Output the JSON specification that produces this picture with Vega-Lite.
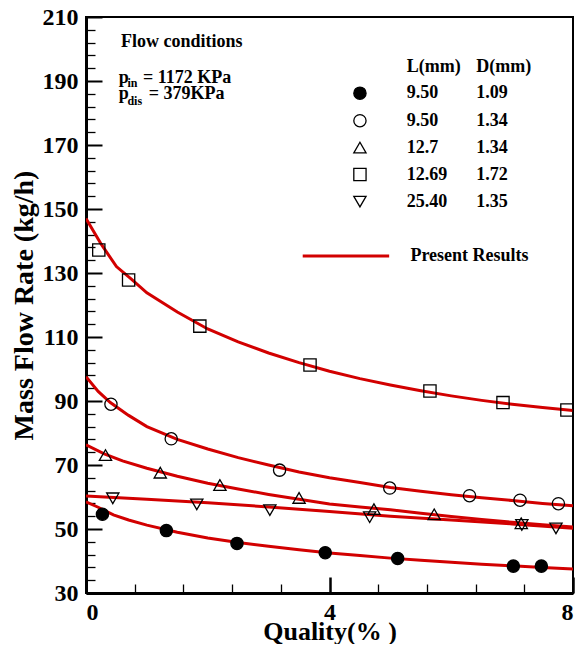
{
  "$schema": "https://vega.github.io/schema/vega-lite/v6.json",
  "width": 487,
  "height": 576,
  "padding": {"left": 10, "top": 5, "right": 0, "bottom": 0},
  "background": "white",
  "config": {
    "view": {"stroke": "black", "strokeWidth": 2},
    "font": "Liberation Serif",
    "axis": {
      "grid": false,
      "domainColor": "black",
      "domainWidth": 3,
      "tickColor": "black",
      "labelFont": "Liberation Serif",
      "labelFontWeight": "bold",
      "labelFontSize": 24,
      "labelColor": "black",
      "titleFont": "Liberation Serif",
      "titleFontWeight": "bold",
      "titleFontSize": 26,
      "titleColor": "black"
    }
  },
  "resolve": {"axis": {"x": "independent", "y": "independent"}},
  "datasets": {
    "curves": [
      {"q": 0, "m": 147, "s": "sq"}, {"q": 0.25, "m": 139, "s": "sq"}, {"q": 0.5, "m": 132, "s": "sq"}, {"q": 0.75, "m": 128, "s": "sq"}, {"q": 1, "m": 123.8, "s": "sq"}, {"q": 1.5, "m": 117.8, "s": "sq"}, {"q": 2, "m": 112.5, "s": "sq"}, {"q": 2.5, "m": 108.5, "s": "sq"}, {"q": 3, "m": 105, "s": "sq"}, {"q": 3.5, "m": 102, "s": "sq"}, {"q": 4, "m": 99.3, "s": "sq"}, {"q": 4.5, "m": 97, "s": "sq"}, {"q": 5, "m": 95, "s": "sq"}, {"q": 5.5, "m": 93.2, "s": "sq"}, {"q": 6, "m": 91.6, "s": "sq"}, {"q": 6.5, "m": 90.2, "s": "sq"}, {"q": 7, "m": 89, "s": "sq"}, {"q": 7.5, "m": 88, "s": "sq"}, {"q": 8, "m": 87, "s": "sq"},
      {"q": 0, "m": 97.6, "s": "oc"}, {"q": 0.2, "m": 93, "s": "oc"}, {"q": 0.4, "m": 89.5, "s": "oc"}, {"q": 0.7, "m": 85.5, "s": "oc"}, {"q": 1, "m": 82, "s": "oc"}, {"q": 1.5, "m": 78, "s": "oc"}, {"q": 2, "m": 75, "s": "oc"}, {"q": 2.5, "m": 72.3, "s": "oc"}, {"q": 3, "m": 70, "s": "oc"}, {"q": 3.5, "m": 67.8, "s": "oc"}, {"q": 4, "m": 66, "s": "oc"}, {"q": 4.5, "m": 64.5, "s": "oc"}, {"q": 5, "m": 63, "s": "oc"}, {"q": 5.5, "m": 61.8, "s": "oc"}, {"q": 6, "m": 60.7, "s": "oc"}, {"q": 6.5, "m": 59.8, "s": "oc"}, {"q": 7, "m": 58.9, "s": "oc"}, {"q": 7.5, "m": 58, "s": "oc"}, {"q": 8, "m": 57.3, "s": "oc"},
      {"q": 0, "m": 76.3, "s": "tu"}, {"q": 0.3, "m": 73.5, "s": "tu"}, {"q": 0.6, "m": 71.3, "s": "tu"}, {"q": 1, "m": 69, "s": "tu"}, {"q": 1.5, "m": 66.5, "s": "tu"}, {"q": 2, "m": 64.3, "s": "tu"}, {"q": 2.5, "m": 62.5, "s": "tu"}, {"q": 3, "m": 60.8, "s": "tu"}, {"q": 3.5, "m": 59.3, "s": "tu"}, {"q": 4, "m": 57.8, "s": "tu"}, {"q": 4.5, "m": 56.9, "s": "tu"}, {"q": 5, "m": 56, "s": "tu"}, {"q": 5.5, "m": 54.9, "s": "tu"}, {"q": 6, "m": 53.9, "s": "tu"}, {"q": 6.5, "m": 53, "s": "tu"}, {"q": 7, "m": 52.1, "s": "tu"}, {"q": 7.5, "m": 51.3, "s": "tu"}, {"q": 8, "m": 50.6, "s": "tu"},
      {"q": 0, "m": 60.3, "s": "td"}, {"q": 1, "m": 59.3, "s": "td"}, {"q": 2, "m": 58.2, "s": "td"}, {"q": 3, "m": 56.9, "s": "td"}, {"q": 4, "m": 55.5, "s": "td"}, {"q": 5, "m": 54, "s": "td"}, {"q": 6, "m": 52.8, "s": "td"}, {"q": 7, "m": 51.6, "s": "td"}, {"q": 8, "m": 50.2, "s": "td"},
      {"q": 0, "m": 58.5, "s": "fc"}, {"q": 0.2, "m": 56.8, "s": "fc"}, {"q": 0.45, "m": 54.4, "s": "fc"}, {"q": 0.7, "m": 52.8, "s": "fc"}, {"q": 1, "m": 51.2, "s": "fc"}, {"q": 1.5, "m": 49, "s": "fc"}, {"q": 2, "m": 47.2, "s": "fc"}, {"q": 2.5, "m": 45.8, "s": "fc"}, {"q": 3, "m": 44.6, "s": "fc"}, {"q": 3.5, "m": 43.5, "s": "fc"}, {"q": 4, "m": 42.5, "s": "fc"}, {"q": 4.5, "m": 41.7, "s": "fc"}, {"q": 5, "m": 40.9, "s": "fc"}, {"q": 5.5, "m": 40.2, "s": "fc"}, {"q": 6, "m": 39.6, "s": "fc"}, {"q": 6.5, "m": 39, "s": "fc"}, {"q": 7, "m": 38.5, "s": "fc"}, {"q": 7.5, "m": 38, "s": "fc"}, {"q": 8, "m": 37.5, "s": "fc"}
    ],
    "points": [
      {"q": 0.27, "m": 54.6, "s": "fc"}, {"q": 1.32, "m": 49.5, "s": "fc"}, {"q": 2.48, "m": 45.5, "s": "fc"}, {"q": 3.93, "m": 42.6, "s": "fc"}, {"q": 5.12, "m": 40.8, "s": "fc"}, {"q": 7.02, "m": 38.4, "s": "fc"}, {"q": 7.48, "m": 38.4, "s": "fc"},
      {"q": 0.41, "m": 89.0, "s": "oc"}, {"q": 1.4, "m": 78.2, "s": "oc"}, {"q": 3.18, "m": 68.4, "s": "oc"}, {"q": 4.99, "m": 62.8, "s": "oc"}, {"q": 6.3, "m": 60.4, "s": "oc"}, {"q": 7.13, "m": 59.0, "s": "oc"}, {"q": 7.76, "m": 57.9, "s": "oc"},
      {"q": 0.32, "m": 73.1, "s": "tu"}, {"q": 1.22, "m": 67.6, "s": "tu"}, {"q": 2.2, "m": 63.75, "s": "tu"}, {"q": 3.5, "m": 59.7, "s": "tu"}, {"q": 4.73, "m": 56.2, "s": "tu"}, {"q": 5.72, "m": 54.6, "s": "tu"}, {"q": 7.15, "m": 51.8, "s": "tu"},
      {"q": 0.21, "m": 137.2, "s": "sq"}, {"q": 0.7, "m": 127.8, "s": "sq"}, {"q": 1.87, "m": 113.4, "s": "sq"}, {"q": 3.68, "m": 101.25, "s": "sq"}, {"q": 5.65, "m": 93.1, "s": "sq"}, {"q": 6.85, "m": 89.5, "s": "sq"}, {"q": 7.9, "m": 87.2, "s": "sq"},
      {"q": 0.44, "m": 59.6, "s": "td"}, {"q": 1.82, "m": 57.7, "s": "td"}, {"q": 3.02, "m": 55.9, "s": "td"}, {"q": 4.66, "m": 53.7, "s": "td"}, {"q": 7.16, "m": 51.25, "s": "td"}, {"q": 7.72, "m": 50.2, "s": "td"},
      {"q": 4.5, "m": 186.2, "s": "fc"}, {"q": 4.5, "m": 177.6, "s": "oc"}, {"q": 4.5, "m": 169.2, "s": "tu"}, {"q": 4.5, "m": 160.8, "s": "sq"}, {"q": 4.5, "m": 152.3, "s": "td"}
    ],
    "legendLine": [{"q": 3.56, "q2": 4.98, "m": 135.3}],
    "bigText": [
      {"q": 5.27, "m": 192.9, "t": "L(mm)"}, {"q": 6.41, "m": 192.9, "t": "D(mm)"},
      {"q": 5.27, "m": 184.6, "t": "9.50"}, {"q": 6.41, "m": 184.6, "t": "1.09"},
      {"q": 5.27, "m": 175.9, "t": "9.50"}, {"q": 6.41, "m": 175.9, "t": "1.34"},
      {"q": 5.27, "m": 167.4, "t": "12.7"}, {"q": 6.41, "m": 167.4, "t": "1.34"},
      {"q": 5.27, "m": 159.1, "t": "12.69"}, {"q": 6.41, "m": 159.1, "t": "1.72"},
      {"q": 5.27, "m": 150.5, "t": "25.40"}, {"q": 6.41, "m": 150.5, "t": "1.35"},
      {"q": 5.33, "m": 133.8, "t": "Present Results"},
      {"q": 0.575, "m": 200.6, "t": "Flow conditions"},
      {"q": 0.54, "m": 189.4, "t": "p"}, {"q": 0.935, "m": 189.4, "t": "= 1172 KPa"},
      {"q": 0.54, "m": 184.4, "t": "p"}, {"q": 1.03, "m": 184.4, "t": "= 379KPa"}
    ],
    "subText": [
      {"q": 0.68, "m": 188.2, "t": "in"},
      {"q": 0.68, "m": 182.6, "t": "dis"}
    ]
  },
  "layer": [
    {
      "data": {"name": "curves"},
      "mark": {"type": "line", "color": "#d20000", "strokeWidth": 3, "clip": true},
      "encoding": {
        "x": {"field": "q", "type": "quantitative",
          "scale": {"domain": [0, 8], "nice": false, "zero": false},
          "axis": {
            "orient": "bottom",
            "title": "Quality(% )",
            "values": [0, 4, 8],
            "format": "d",
            "ticks": false,
            "labelPadding": 7,
            "titlePadding": -6
          }},
        "y": {"field": "m", "type": "quantitative",
          "scale": {"domain": [30, 210], "nice": false, "zero": false},
          "axis": {
            "orient": "left",
            "title": "Mass Flow Rate (kg/h)",
            "titleFontSize": 28,
            "values": [30, 50, 70, 90, 110, 130, 150, 170, 190, 210],
            "format": "d",
            "ticks": false,
            "labelPadding": 8,
            "titlePadding": 4
          }},
        "detail": {"field": "s"}
      }
    },
    {
      "data": {"name": "points"},
      "mark": {"type": "point", "stroke": "black", "strokeWidth": 1.3, "size": 150, "opacity": 1},
      "encoding": {
        "x": {"field": "q", "type": "quantitative",
          "axis": {"orient": "bottom", "values": [0, 4, 8], "offset": -16, "tickSize": 16, "tickWidth": 2.5, "ticks": true, "labels": false, "domain": false, "title": null}},
        "y": {"field": "m", "type": "quantitative",
          "axis": {"orient": "left", "values": [30, 50, 70, 90, 110, 130, 150, 170, 190, 210], "offset": -16, "tickSize": 16, "tickWidth": 2, "ticks": true, "labels": false, "domain": false, "title": null}},
        "shape": {"field": "s", "type": "nominal", "legend": null,
          "scale": {"domain": ["fc", "oc", "tu", "sq", "td"], "range": ["circle", "circle", "triangle-up", "square", "triangle-down"]}},
        "fill": {"field": "s", "type": "nominal", "legend": null,
          "scale": {"domain": ["fc", "oc", "tu", "sq", "td"], "range": ["black", "transparent", "transparent", "transparent", "transparent"]}}
      }
    },
    {
      "data": {"name": "legendLine"},
      "mark": {"type": "rule", "color": "#d20000", "strokeWidth": 3},
      "encoding": {
        "x": {"field": "q", "type": "quantitative",
          "axis": {"orient": "bottom", "values": [0.8, 1.6, 2.4, 3.2, 4.8, 5.6, 6.4, 7.2], "offset": -9, "tickSize": 9, "tickWidth": 1.3, "ticks": true, "labels": false, "domain": false, "title": null}},
        "x2": {"field": "q2"},
        "y": {"field": "m", "type": "quantitative",
          "axis": {"orient": "left", "values": [34, 38, 42, 46, 54, 58, 62, 66, 74, 78, 82, 86, 94, 98, 102, 106, 114, 118, 122, 126, 134, 138, 142, 146, 154, 158, 162, 166, 174, 178, 182, 186, 194, 198, 202, 206], "offset": -9, "tickSize": 9, "tickWidth": 1.3, "ticks": true, "labels": false, "domain": false, "title": null}}
      }
    },
    {
      "data": {"name": "bigText"},
      "mark": {"type": "text", "align": "left", "baseline": "alphabetic", "font": "Liberation Serif", "fontWeight": "bold", "fontSize": 18, "color": "black"},
      "encoding": {
        "x": {"field": "q", "type": "quantitative", "axis": null},
        "y": {"field": "m", "type": "quantitative", "axis": null},
        "text": {"field": "t"}
      }
    },
    {
      "data": {"name": "subText"},
      "mark": {"type": "text", "align": "left", "baseline": "alphabetic", "font": "Liberation Serif", "fontWeight": "bold", "fontSize": 12, "color": "black"},
      "encoding": {
        "x": {"field": "q", "type": "quantitative", "axis": null},
        "y": {"field": "m", "type": "quantitative", "axis": null},
        "text": {"field": "t"}
      }
    }
  ]
}
